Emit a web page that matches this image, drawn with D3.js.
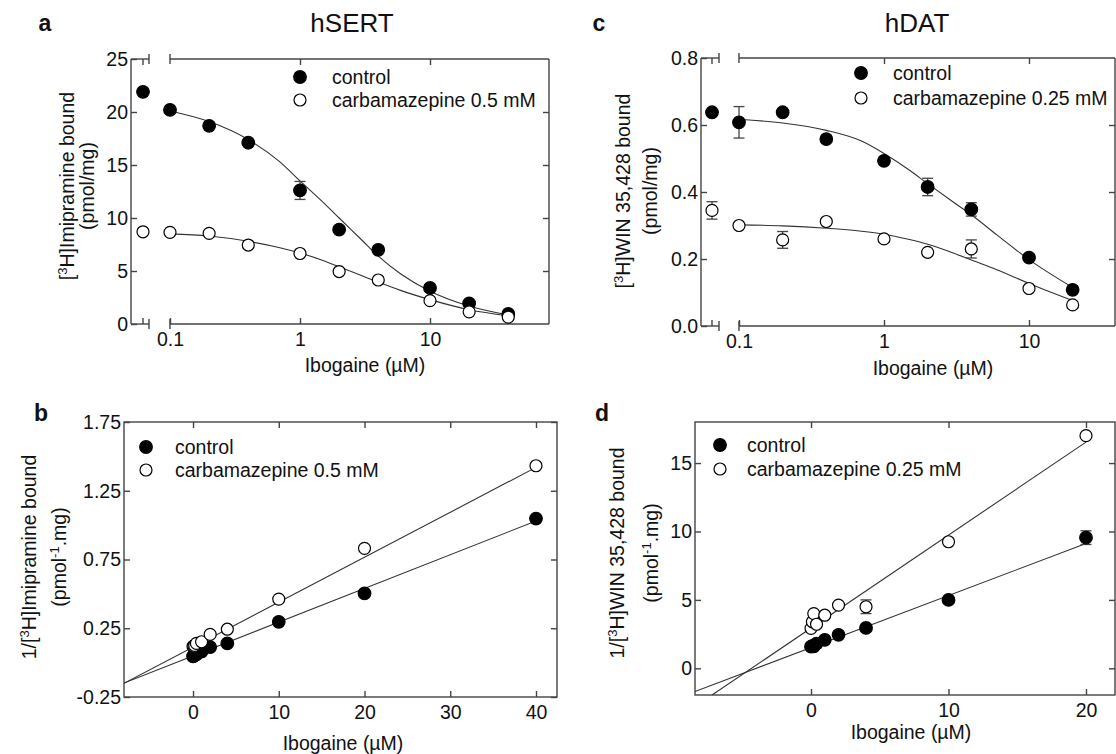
<!DOCTYPE html>
<html>
<head>
<meta charset="utf-8">
<script src="https://cdn.jsdelivr.net/npm/d3@7"></script>
<style>
body { margin: 0; background: #fff; }
svg text { font-family: "Liberation Sans", Arial, sans-serif; fill: #111; }
</style>
</head>
<body>
<svg width="1116" height="754"></svg>
<script>
// ---- data ----
// ibogaine concentrations (uM); 0 is plotted at the axis break on log panels
var dosesSERT = [0, 0.1, 0.2, 0.4, 1, 2, 4, 10, 20, 40];
var dosesDAT = [0, 0.1, 0.2, 0.4, 1, 2, 4, 10, 20];

// panel a: [3H]imipramine bound (pmol/mg)
var aControl = [21.9, 20.2, 18.7, 17.1, 12.6, 8.9, 7.0, 3.4, 1.95, 0.95];
var aControlErr = [null, null, null, null, 0.85, null, null, null, null, null];
var aCarb = [8.7, 8.65, 8.55, 7.45, 6.65, 4.95, 4.15, 2.2, 1.15, 0.65];
var aCarbErr = [null, null, null, null, null, null, null, null, null, null];
var fitDoseA = [0.1, 0.2, 0.4, 0.7, 1, 1.5, 2, 3, 4, 6, 10, 20, 40];
var aFitControl = [20.1, 19.1, 17.4, 15.3, 13.5, 11.5, 10.0, 7.9, 6.4, 4.7, 3.1, 1.7, 0.85];
var aFitCarb = [8.5, 8.3, 7.8, 7.2, 6.7, 6.0, 5.4, 4.55, 3.95, 3.15, 2.3, 1.35, 0.78];

// panel c: [3H]WIN 35,428 bound (pmol/mg)
var cControl = [0.638, 0.608, 0.638, 0.558, 0.493, 0.415, 0.348, 0.204, 0.108];
var cControlErr = [null, 0.047, null, null, 0.01, 0.026, 0.02, null, null];
var cCarb = [0.345, 0.3, 0.257, 0.312, 0.26, 0.22, 0.23, 0.112, 0.063];
var cCarbErr = [0.026, null, 0.025, null, null, null, 0.027, null, null];
var fitDoseC = [0.1, 0.2, 0.4, 0.7, 1, 1.5, 2, 3, 4, 6, 10, 20];
var cFitControl = [0.617, 0.606, 0.584, 0.552, 0.515, 0.465, 0.425, 0.37, 0.332, 0.272, 0.198, 0.115];
var cFitCarb = [0.302, 0.299, 0.292, 0.283, 0.274, 0.258, 0.244, 0.218, 0.197, 0.168, 0.127, 0.076];

// panel b: 1/[3H]imipramine bound (pmol^-1.mg)
var bControl = [0.046, 0.05, 0.054, 0.06, 0.08, 0.113, 0.14, 0.297, 0.503, 1.048];
var bCarb = [0.118, 0.12, 0.125, 0.14, 0.152, 0.205, 0.243, 0.462, 0.831, 1.432];
var bFitControl = [[-8.05, -0.149], [40, 1.03]];
var bFitCarb = [[-8.05, -0.15], [40, 1.42]];

// panel d: 1/[3H]WIN 35,428 bound (pmol^-1.mg)
var dControl = [1.58, 1.63, 1.6, 1.8, 2.08, 2.45, 2.95, 5.0, 9.55];
var dControlErr = [null, null, null, null, null, null, null, null, 0.5];
var dCarb = [2.92, 3.4, 4.0, 3.22, 3.88, 4.62, 4.5, 9.25, 17.0];
var dCarbErr = [null, null, null, null, null, null, 0.5, null, null];
var dFitControl = [[-8.44, -1.7], [20, 9.12]];
var dFitCarb = [[-7.2, -1.95], [20, 16.53]];

var legendSERT = ["control", "carbamazepine 0.5 mM"];
var legendDAT = ["control", "carbamazepine 0.25 mM"];

// ---- drawing ----
var svg = d3.select("svg");
var FS = 19.5;
var INK = "#444";

function seg(g, x1, y1, x2, y2, w) {
  g.append("line").attr("x1", x1).attr("y1", y1).attr("x2", x2).attr("y2", y2)
    .attr("stroke", INK).attr("stroke-width", w || 1.4);
}

// text with one superscript piece: parts = ["[", {sup:"3"}, "H]..."]
function richText(g, parts, attrs) {
  var t = g.append("text").attr("font-size", FS);
  for (var k in attrs) t.attr(k, attrs[k]);
  var up = false;
  parts.forEach(function(p) {
    if (typeof p === "string") {
      t.append("tspan").attr("dy", up ? 7 : 0).text(p);
      up = false;
    } else {
      t.append("tspan").attr("dy", -7).attr("font-size", 13).text(p.sup);
      up = true;
    }
  });
  return t;
}

function ticksStyle(ax) {
  ax.select(".domain").remove();
  ax.selectAll(".tick line").attr("stroke", INK).attr("stroke-width", 1.4);
  ax.selectAll(".tick text").attr("font-size", FS).attr("font-family", "Liberation Sans, Arial, sans-serif").attr("fill", "#111");
}

function drawSeries(g, xs, px, y, vals, errs, filled) {
  var pts = xs.map(function(d, i) { return {x: d, v: vals[i], e: errs ? errs[i] : null}; });
  pts.filter(function(d) { return d.e; }).forEach(function(d) {
    var cx = px(d.x);
    seg(g, cx, y(d.v - d.e), cx, y(d.v + d.e), 1.3);
    seg(g, cx - 5.5, y(d.v - d.e), cx + 5.5, y(d.v - d.e), 1.3);
    seg(g, cx - 5.5, y(d.v + d.e), cx + 5.5, y(d.v + d.e), 1.3);
  });
  g.selectAll(null).data(pts).enter().append("circle")
    .attr("cx", function(d) { return px(d.x); })
    .attr("cy", function(d) { return y(d.v); })
    .attr("r", filled ? 6.3 : 6)
    .attr("fill", filled ? "#000" : "#fff")
    .attr("stroke", "#000").attr("stroke-width", 1.2);
}

function legend(g, lx, ly, tx, labels) {
  [0, 1].forEach(function(i) {
    g.append("circle").attr("cx", lx).attr("cy", ly[i]).attr("r", i ? 6 : 6.3)
      .attr("fill", i ? "#fff" : "#000").attr("stroke", "#000").attr("stroke-width", 1.2);
    g.append("text").attr("x", tx).attr("y", ly[i] + 7).attr("font-size", FS).text(labels[i]);
  });
}

// log-x panels with broken axis (a, c)
function logPanel(p) {
  var g = svg.append("g");
  var x = d3.scaleLog().domain([0.1, 10]).range([p.x01, p.x10]);
  var y = d3.scaleLinear().domain(p.yDomain).range([p.B, p.T]);
  var px = function(d) { return d === 0 ? p.zeroX : x(d); };

  // frame with break
  seg(g, p.L, p.T, p.L, p.B);
  seg(g, p.R, p.T, p.R, p.B);
  [p.T, p.B].forEach(function(yy) {
    seg(g, p.L, yy, p.brk0, yy);
    seg(g, p.x01, yy, p.R, yy);
    seg(g, p.brk0, yy - 5, p.brk0, yy + 5);
    seg(g, p.x01, yy - 5, p.x01, yy + 5);
  });
  seg(g, p.zeroX, p.T, p.zeroX, p.T + 6);
  seg(g, p.zeroX, p.B, p.zeroX, p.B - 6);

  var bx = g.append("g").attr("transform", "translate(0," + p.B + ")")
    .call(d3.axisBottom(x).tickValues([0.1, 1, 10]).tickFormat(function(d) { return String(d); })
      .tickSizeInner(-6).tickSizeOuter(0).tickPadding(8));
  ticksStyle(bx);
  var tx = g.append("g").attr("transform", "translate(0," + p.T + ")")
    .call(d3.axisTop(x).tickValues([1, 10]).tickFormat("").tickSizeInner(-6).tickSizeOuter(0));
  ticksStyle(tx);
  var ly = g.append("g").attr("transform", "translate(" + p.L + ",0)")
    .call(d3.axisLeft(y).tickValues(p.yTicks).tickFormat(p.yFmt).tickSizeInner(-6).tickSizeOuter(0).tickPadding(3));
  ticksStyle(ly);
  var ry = g.append("g").attr("transform", "translate(" + p.R + ",0)")
    .call(d3.axisRight(y).tickValues(p.yTicks.slice(1, -1)).tickFormat("").tickSizeInner(-6).tickSizeOuter(0));
  ticksStyle(ry);

  var line = d3.line().x(function(d) { return x(d[0]); }).y(function(d) { return y(d[1]); }).curve(d3.curveMonotoneX);
  p.fits.forEach(function(f) {
    g.append("path").datum(p.fitDose.map(function(d, i) { return [d, f[i]]; }))
      .attr("d", line).attr("fill", "none").attr("stroke", "#333").attr("stroke-width", 1.1);
  });
  drawSeries(g, p.doses, px, y, p.control, p.controlErr, true);
  drawSeries(g, p.doses, px, y, p.carb, p.carbErr, false);
  legend(g, p.legX, p.legY, p.legTX, p.legLabels);

  g.append("text").attr("x", p.xlab[0]).attr("y", p.xlab[1]).attr("text-anchor", "middle").attr("font-size", FS).text("Ibogaine (\u00b5M)");
  richText(g, p.ylab1, {"text-anchor": "middle", transform: "translate(" + p.ylabX[0] + "," + p.ylabY + ") rotate(-90)"});
  richText(g, p.ylab2, {"text-anchor": "middle", transform: "translate(" + p.ylabX[1] + "," + p.ylabY + ") rotate(-90)"});
  g.append("text").attr("x", p.title[0]).attr("y", p.title[1]).attr("text-anchor", "middle").attr("font-size", 26).text(p.title[2]);
  g.append("text").attr("x", p.letter[0]).attr("y", p.letter[1]).attr("text-anchor", "middle").attr("font-size", 23).attr("font-weight", "bold").text(p.letter[2]);
}

// linear panels (b, d)
function linPanel(p) {
  var g = svg.append("g");
  var x = d3.scaleLinear().domain(p.xDomain).range([p.L, p.R]);
  var y = d3.scaleLinear().domain(p.yDomain).range([p.B, p.T]);
  g.append("rect").attr("x", p.L).attr("y", p.T).attr("width", p.R - p.L).attr("height", p.B - p.T)
    .attr("fill", "none").attr("stroke", INK).attr("stroke-width", 1.4);

  var bx = g.append("g").attr("transform", "translate(0," + p.B + ")")
    .call(d3.axisBottom(x).tickValues(p.xTicks).tickFormat(function(d) { return String(d); })
      .tickSizeInner(-6).tickSizeOuter(0).tickPadding(8));
  ticksStyle(bx);
  var tx = g.append("g").attr("transform", "translate(0," + p.T + ")")
    .call(d3.axisTop(x).tickValues(p.xTicks).tickFormat("").tickSizeInner(-6).tickSizeOuter(0));
  ticksStyle(tx);
  var ly = g.append("g").attr("transform", "translate(" + p.L + ",0)")
    .call(d3.axisLeft(y).tickValues(p.yTicks).tickFormat(p.yFmt).tickSizeInner(-6).tickSizeOuter(0).tickPadding(3));
  ticksStyle(ly);
  var ry = g.append("g").attr("transform", "translate(" + p.R + ",0)")
    .call(d3.axisRight(y).tickValues(p.yTicks).tickFormat("").tickSizeInner(-6).tickSizeOuter(0));
  ticksStyle(ry);

  var clipId = "clip" + p.letter[2];
  g.append("clipPath").attr("id", clipId).append("rect")
    .attr("x", p.L).attr("y", p.T).attr("width", p.R - p.L).attr("height", p.B - p.T);
  var line = d3.line().x(function(d) { return x(d[0]); }).y(function(d) { return y(d[1]); });
  p.fits.forEach(function(f) {
    g.append("path").datum(f).attr("d", line).attr("clip-path", "url(#" + clipId + ")")
      .attr("fill", "none").attr("stroke", "#333").attr("stroke-width", 1.1);
  });
  drawSeries(g, p.doses, x, y, p.control, p.controlErr, true);
  drawSeries(g, p.doses, x, y, p.carb, p.carbErr, false);
  legend(g, p.legX, p.legY, p.legTX, p.legLabels);

  g.append("text").attr("x", p.xlab[0]).attr("y", p.xlab[1]).attr("text-anchor", "middle").attr("font-size", FS).text("Ibogaine (\u00b5M)");
  richText(g, p.ylab1, {"text-anchor": "middle", transform: "translate(" + p.ylabX[0] + "," + p.ylabY + ") rotate(-90)"});
  richText(g, p.ylab2, {"text-anchor": "middle", transform: "translate(" + p.ylabX[1] + "," + p.ylabY + ") rotate(-90)"});
  g.append("text").attr("x", p.letter[0]).attr("y", p.letter[1]).attr("text-anchor", "middle").attr("font-size", 23).attr("font-weight", "bold").text(p.letter[2]);
}

logPanel({
  L: 131, R: 549, T: 59, B: 324, zeroX: 143, brk0: 149, x01: 170, x10: 430,
  yDomain: [0, 25], yTicks: [0, 5, 10, 15, 20, 25], yFmt: d3.format("d"),
  doses: dosesSERT, control: aControl, controlErr: aControlErr, carb: aCarb, carbErr: aCarbErr,
  fitDose: fitDoseA, fits: [aFitControl, aFitCarb],
  legX: 300, legY: [77, 100], legTX: 332, legLabels: legendSERT,
  xlab: [365, 372], ylabX: [74, 94], ylabY: 186,
  ylab1: ["[", {sup: "3"}, "H]Imipramine bound"], ylab2: ["(pmol/mg)"],
  title: [352, 32, "hSERT"], letter: [45, 31, "a"]
});

logPanel({
  L: 701, R: 1115, T: 58, B: 326, zeroX: 712, brk0: 719, x01: 739, x10: 1029,
  yDomain: [0, 0.8], yTicks: [0, 0.2, 0.4, 0.6, 0.8], yFmt: d3.format(".1f"),
  doses: dosesDAT, control: cControl, controlErr: cControlErr, carb: cCarb, carbErr: cCarbErr,
  fitDose: fitDoseC, fits: [cFitControl, cFitCarb],
  legX: 861, legY: [73, 98], legTX: 893, legLabels: legendDAT,
  xlab: [933, 375], ylabX: [630, 657], ylabY: 191,
  ylab1: ["[", {sup: "3"}, "H]WIN 35,428 bound"], ylab2: ["(pmol/mg)"],
  title: [917, 32, "hDAT"], letter: [599, 31, "c"]
});

linPanel({
  L: 124, R: 557, T: 422, B: 697,
  xDomain: [-8.05, 42.45], xTicks: [0, 10, 20, 30, 40],
  yDomain: [-0.25, 1.75], yTicks: [-0.25, 0.25, 0.75, 1.25, 1.75], yFmt: function(d) { return d.toFixed(2); },
  doses: dosesSERT, control: bControl, controlErr: null, carb: bCarb, carbErr: null,
  fits: [bFitControl, bFitCarb],
  legX: 146, legY: [447, 470], legTX: 175, legLabels: legendSERT,
  xlab: [343, 750], ylabX: [36, 66], ylabY: 557,
  ylab1: ["1/[", {sup: "3"}, "H]Imipramine bound"], ylab2: ["(pmol", {sup: "-1"}, ".mg)"],
  letter: [41, 421, "b"]
});

linPanel({
  L: 695, R: 1115, T: 422, B: 695,
  xDomain: [-8.44, 22.11], xTicks: [0, 10, 20],
  yDomain: [-1.95, 18], yTicks: [0, 5, 10, 15], yFmt: d3.format("d"),
  doses: dosesDAT, control: dControl, controlErr: dControlErr, carb: dCarb, carbErr: dCarbErr,
  fits: [dFitControl, dFitCarb],
  legX: 720, legY: [445, 469], legTX: 747, legLabels: legendDAT,
  xlab: [911, 739], ylabX: [624, 658], ylabY: 553,
  ylab1: ["1/[", {sup: "3"}, "H]WIN 35,428 bound"], ylab2: ["(pmol", {sup: "-1"}, ".mg)"],
  letter: [602, 421, "d"]
});
</script>
</body>
</html>
